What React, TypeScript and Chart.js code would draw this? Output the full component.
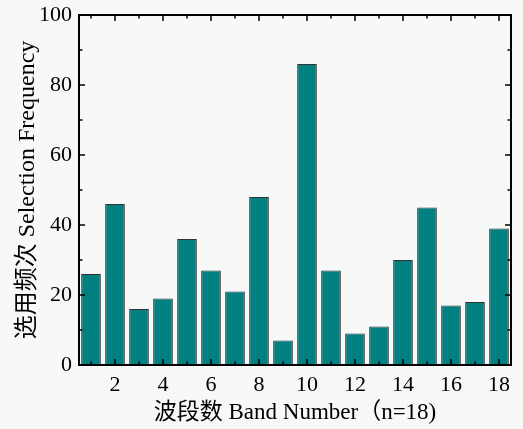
import React, { useEffect, useRef } from "react";
import { Chart, registerables } from "chart.js";

Chart.register(...registerables);

const categories = ["1","2","3","4","5","6","7","8","9","10","11","12","13","14","15","16","17","18"];
const selectionFrequency = [26, 46, 16, 19, 36, 27, 21, 48, 7, 86, 27, 9, 11, 30, 45, 17, 18, 39];
const yMajorTicks = [0, 20, 40, 60, 80, 100];
const yMinorTicks = [10, 30, 50, 70, 90];
const xLabelShown = ["2","4","6","8","10","12","14","16","18"];

const BG = "#f7f9f9";
const FONT = "'Liberation Serif', 'Times New Roman', 'Noto Sans CJK SC', serif";

const framePlugin = {
  id: "frameTicks",
  beforeDraw(chart: any) {
    const ctx = chart.ctx;
    ctx.save();
    ctx.fillStyle = BG;
    ctx.fillRect(0, 0, chart.width, chart.height);
    ctx.restore();
  },
  afterDraw(chart: any) {
    const { ctx, chartArea } = chart;
    const { left, right, top, bottom } = chartArea;
    const xs = chart.scales.x;
    const ys = chart.scales.y;
    ctx.save();
    ctx.strokeStyle = "#000";
    ctx.lineWidth = 1.5;
    categories.forEach((c, i) => {
      const px = xs.getPixelForValue(i);
      const len = xLabelShown.includes(c) ? 6 : 3.5;
      ctx.beginPath();
      ctx.moveTo(px, bottom);
      ctx.lineTo(px, bottom - len);
      ctx.moveTo(px, top);
      ctx.lineTo(px, top + len);
      ctx.stroke();
    });
    const drawY = (v: number, len: number) => {
      const py = ys.getPixelForValue(v);
      ctx.beginPath();
      ctx.moveTo(left, py);
      ctx.lineTo(left + len, py);
      ctx.moveTo(right, py);
      ctx.lineTo(right - len, py);
      ctx.stroke();
    };
    yMajorTicks.forEach((v) => drawY(v, 6));
    yMinorTicks.forEach((v) => drawY(v, 3.5));
    ctx.lineWidth = 2;
    ctx.strokeRect(left, top, right - left, bottom - top);
    ctx.restore();
  },
};

export default function App() {
  const ref = useRef<HTMLCanvasElement | null>(null);
  useEffect(() => {
    document.body.style.margin = "0";
    document.body.style.background = BG;
    if (!ref.current) return;
    const chart = new Chart(ref.current, {
      type: "bar",
      data: {
        labels: categories,
        datasets: [
          {
            data: selectionFrequency,
            backgroundColor: "#008080",
            borderColor: "#333333",
            borderWidth: 1,
            borderSkipped: false,
            barPercentage: 0.82,
            categoryPercentage: 1,
          },
        ],
      },
      options: {
        responsive: false,
        animation: false,
        layout: { padding: { left: 0, right: 12, top: 15, bottom: 0 } },
        plugins: { legend: { display: false }, tooltip: { enabled: false } },
        scales: {
          x: {
            grid: { display: false, drawTicks: false },
            border: { display: false },
            ticks: {
              color: "#000",
              font: { family: FONT, size: 22 },
              padding: 7,
              autoSkip: false,
              maxRotation: 0,
              callback: (_v: any, i: number) => (xLabelShown.includes(categories[i]) ? categories[i] : ""),
            },
            title: {
              display: true,
              text: "波段数 Band Number（n=18)",
              color: "#000",
              font: { family: FONT, size: 23 },
              padding: { top: 0, bottom: 2 },
            },
            afterFit: (s: any) => {
              s.height = 64;
              s.paddingLeft = 0;
              s.paddingRight = 0;
            },
          },
          y: {
            min: 0,
            max: 100,
            grid: { display: false, drawTicks: false },
            border: { display: false },
            ticks: {
              stepSize: 20,
              color: "#000",
              font: { family: FONT, size: 22 },
              padding: 7,
            },
            title: {
              display: true,
              text: "选用频次 Selection Frequency",
              color: "#000",
              font: { family: FONT, size: 24 },
              padding: { top: 13, bottom: 0 },
            },
            afterFit: (s: any) => {
              s.width = 79;
              s.paddingTop = 0;
              s.paddingBottom = 0;
            },
          },
        },
      },
      plugins: [framePlugin],
    });
    return () => chart.destroy();
  }, []);
  return (
    <div style={{ position: "absolute", left: 0, top: 0, width: 523, height: 429, background: BG }}>
      <canvas ref={ref} width={523} height={429} />
    </div>
  );
}
